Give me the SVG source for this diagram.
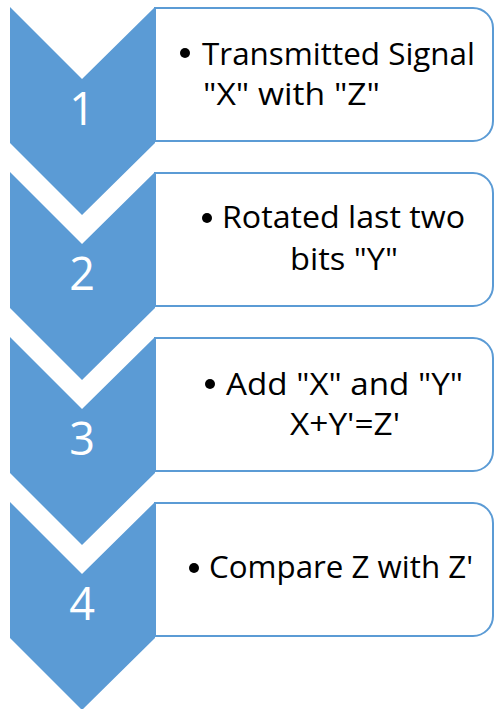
<svg xmlns="http://www.w3.org/2000/svg" width="495" height="709" viewBox="0 0 495 709">
  <style>
    .chev { fill: #5B9BD5; }
    .num { font-family: "Open Sans", "Liberation Sans", sans-serif; font-size: 45px; fill: #FFFFFF; text-anchor: middle; }
    .box { fill: #FFFFFF; stroke: #5B9BD5; stroke-width: 2; }
    .txt { font-family: "Open Sans", "Liberation Sans", sans-serif; font-size: 31px; fill: #000000; }
    .bul { fill: #000000; }
  </style>
  <defs>
    <!-- chevron pointing down, top at y=0 -->
    <polygon id="chevron" points="10,0 82,72 155,0 155,136 82,208 10,136"/>
    <!-- text panel with rounded right corners -->
    <path id="panel" d="M155,1 H473 A20,20 0 0 1 493,21 V114 A20,20 0 0 1 473,134 H155 Z"/>
  </defs>

  <g id="step1">
    <use href="#panel" class="box" y="7"/>
    <use href="#chevron" class="chev" y="7"/>
    <text class="num" x="82" y="125">1</text>
    <circle class="bul" cx="185" cy="53" r="5"/>
    <text class="txt" x="202" y="65" textLength="273" lengthAdjust="spacingAndGlyphs">Transmitted Signal</text>
    <text class="txt" x="203" y="105" textLength="177" lengthAdjust="spacingAndGlyphs">"X" with "Z"</text>
  </g>

  <g id="step2">
    <use href="#panel" class="box" y="172"/>
    <use href="#chevron" class="chev" y="172"/>
    <text class="num" x="82" y="290">2</text>
    <circle class="bul" cx="207" cy="218" r="5"/>
    <text class="txt" x="222" y="228" textLength="243" lengthAdjust="spacingAndGlyphs">Rotated last two</text>
    <text class="txt" x="290" y="270" textLength="108" lengthAdjust="spacingAndGlyphs">bits "Y"</text>
  </g>

  <g id="step3">
    <use href="#panel" class="box" y="337"/>
    <use href="#chevron" class="chev" y="337"/>
    <text class="num" x="82" y="455">3</text>
    <circle class="bul" cx="210" cy="384" r="5"/>
    <text class="txt" x="226" y="395" textLength="237" lengthAdjust="spacingAndGlyphs">Add "X" and "Y"</text>
    <text class="txt" x="290" y="435" textLength="110" lengthAdjust="spacingAndGlyphs">X+Y'=Z'</text>
  </g>

  <g id="step4">
    <use href="#panel" class="box" y="502"/>
    <use href="#chevron" class="chev" y="502"/>
    <text class="num" x="82" y="620">4</text>
    <circle class="bul" cx="194" cy="568" r="5"/>
    <text class="txt" x="209" y="578" textLength="264" lengthAdjust="spacingAndGlyphs">Compare Z with Z'</text>
  </g>

  <g id="connectors"/>
</svg>
